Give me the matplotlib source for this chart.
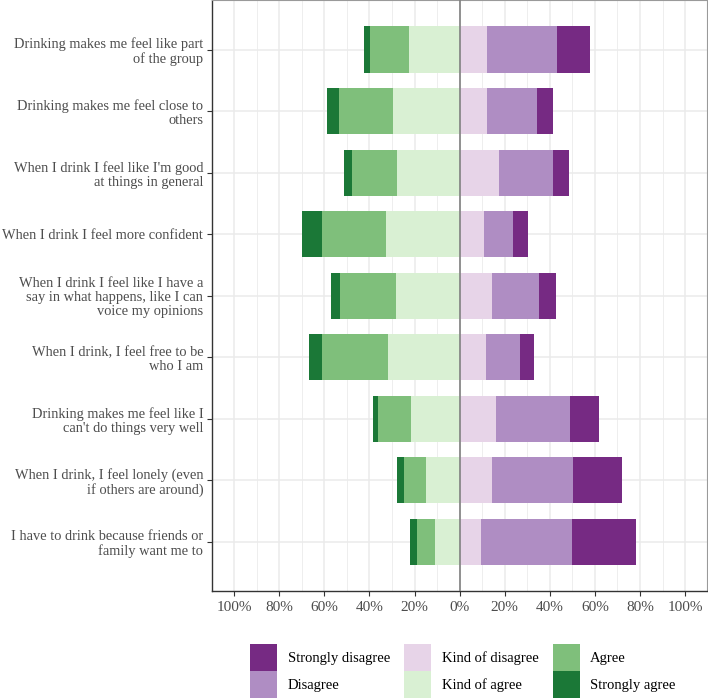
import numpy as np
import matplotlib
matplotlib.use('Agg')
import matplotlib.pyplot as plt
from matplotlib.patches import Patch
from matplotlib.ticker import MultipleLocator, FuncFormatter

plt.rcParams['font.family'] = ['Liberation Serif', 'DejaVu Serif']

# data (percent of respondents) ------------------------------------
items = [
    "Drinking makes me feel like part\nof the group",
    "Drinking makes me feel close to\nothers",
    "When I drink I feel like I'm good\nat things in general",
    "When I drink I feel more confident",
    "When I drink I feel like I have a\nsay in what happens, like I can\nvoice my opinions",
    "When I drink, I feel free to be\nwho I am",
    "Drinking makes me feel like I\ncan't do things very well",
    "When I drink, I feel lonely (even\nif others are around)",
    "I have to drink because friends or\nfamily want me to",
]
strongly_agree = [2.8, 5.2, 3.6, 8.6, 4.3, 6.1, 2.1, 3.2, 3.1]
agree = [17.0, 23.9, 19.9, 28.5, 24.7, 29.0, 14.6, 9.8, 8.1]
kind_agree = [22.6, 29.6, 27.8, 32.7, 28.2, 31.9, 21.6, 14.9, 10.8]
kind_disagree = [12.0, 12.1, 17.4, 10.8, 14.3, 11.7, 16.1, 14.3, 9.5]
disagree = [31.2, 22.2, 24.1, 12.9, 21.0, 15.1, 33.0, 36.1, 40.3]
strongly_disagree = [14.6, 6.9, 7.1, 6.5, 7.6, 6.3, 12.7, 21.7, 28.4]

colors = {
    'Strongly disagree': '#762a83',
    'Disagree': '#af8dc3',
    'Kind of disagree': '#e7d4e8',
    'Kind of agree': '#d9f0d3',
    'Agree': '#7fbf7b',
    'Strongly agree': '#1b7837',
}

# plot ----------------------------------------------------------
fig = plt.figure(figsize=(7.08, 6.98), dpi=100)
ax = fig.add_axes([0.2999, 0.1533, 0.6987, 0.8462])

y = np.arange(len(items))
h = 0.75
ka = np.array(kind_agree)
a = np.array(agree)
sa = np.array(strongly_agree)
kd = np.array(kind_disagree)
d = np.array(disagree)
sd = np.array(strongly_disagree)

ax.barh(y, -ka, height=h, color=colors['Kind of agree'], zorder=2)
ax.barh(y, -a, left=-ka, height=h, color=colors['Agree'], zorder=2)
ax.barh(y, -sa, left=-(ka + a), height=h, color=colors['Strongly agree'], zorder=2)
ax.barh(y, kd, height=h, color=colors['Kind of disagree'], zorder=2)
ax.barh(y, d, left=kd, height=h, color=colors['Disagree'], zorder=2)
ax.barh(y, sd, left=kd + d, height=h, color=colors['Strongly disagree'], zorder=2)

ax.axvline(0, color='#808080', lw=1.2, zorder=3)

ax.set_xlim(-109.7, 109.7)
ax.set_ylim(len(items) - 0.2, -0.8)
ax.set_yticks(y)
ax.set_yticklabels(items, fontsize=10.4, color='#4d4d4d', ha='right', linespacing=1.12)
ax.xaxis.set_major_locator(MultipleLocator(20))
ax.xaxis.set_minor_locator(MultipleLocator(10))
ax.xaxis.set_major_formatter(FuncFormatter(lambda v, p: f'{abs(v):.0f}%'))
ax.tick_params(axis='x', labelsize=11, colors='#333333', labelcolor='#4d4d4d', length=3.5, width=0.8)
ax.tick_params(axis='x', which='minor', length=0)
ax.tick_params(axis='y', colors='#333333', labelcolor='#4d4d4d', length=3.5, width=0.8, pad=3)

ax.grid(True, which='major', color='#ebebeb', lw=1.1, zorder=0)
ax.grid(True, which='minor', axis='x', color='#ebebeb', lw=0.6, zorder=0)
ax.set_axisbelow(True)

for s in ['left', 'bottom']:
    ax.spines[s].set_color('#333333')
    ax.spines[s].set_linewidth(1.0)
for s in ['top', 'right']:
    ax.spines[s].set_color('#9a9a9a')
    ax.spines[s].set_linewidth(0.8)

order = ['Strongly disagree', 'Disagree', 'Kind of disagree',
         'Kind of agree', 'Agree', 'Strongly agree']
handles = [Patch(facecolor=colors[k], edgecolor='none', label=k) for k in order]
fig.legend(handles=handles, loc='center', bbox_to_anchor=(463 / 708, 1 - 671 / 698),
           ncol=3, frameon=False, fontsize=10.5, handlelength=1.85, handleheight=2.47,
           labelspacing=0.0, columnspacing=1.0, handletextpad=0.7, borderpad=0)

fig.savefig('out.png', dpi=100)
